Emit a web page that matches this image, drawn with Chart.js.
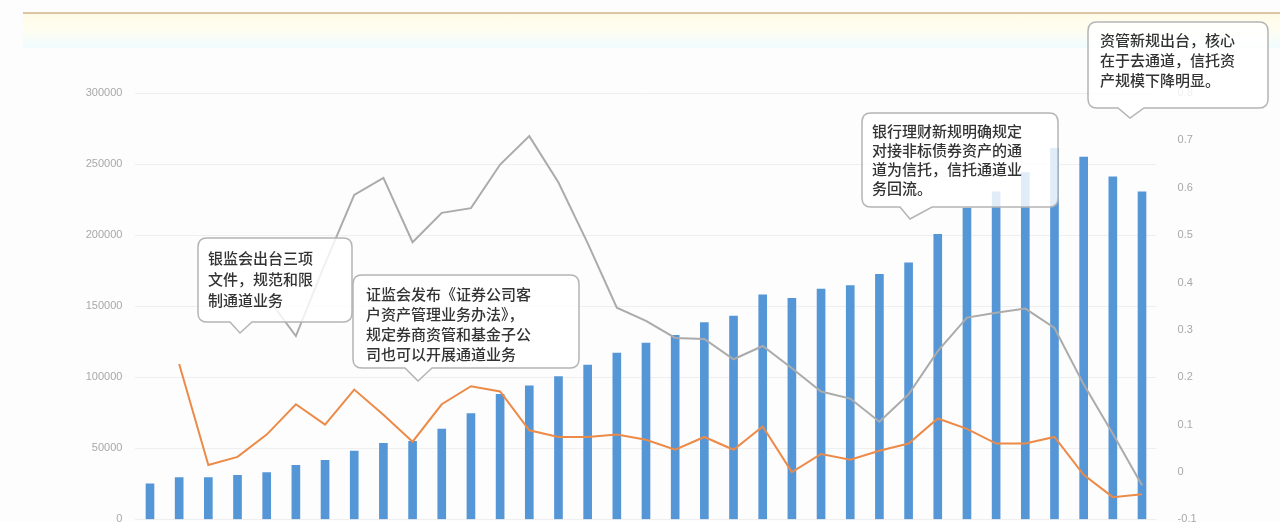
<!DOCTYPE html>
<html>
<head>
<meta charset="utf-8">
<script src="https://cdn.jsdelivr.net/npm/chart.js@4.4.1/dist/chart.umd.min.js"></script>
<style>
  html, body { margin: 0; padding: 0; background: #fdfdfd; overflow: hidden; }
  #wrap { position: relative; width: 1280px; height: 522px; overflow: hidden; background: #fdfdfd; }
  #band { position: absolute; left: 23px; top: 12px; width: 1257px; height: 34px;
          border-top: 2px solid #dcc6a2;
          background: linear-gradient(#fffbe8, #fffdf0 45%, #f1fcff); }
  #chart { position: absolute; left: 0; top: 0; }
</style>
</head>
<body>
<div id="wrap">
  <div id="band"></div>
  <canvas id="chart" width="1280" height="539"></canvas>
</div>
<script>
// quarterly data, 2010Q1 .. 2018Q3
const quarters = ['2010Q1','2010Q2','2010Q3','2010Q4','2011Q1','2011Q2','2011Q3','2011Q4',
  '2012Q1','2012Q2','2012Q3','2012Q4','2013Q1','2013Q2','2013Q3','2013Q4',
  '2014Q1','2014Q2','2014Q3','2014Q4','2015Q1','2015Q2','2015Q3','2015Q4',
  '2016Q1','2016Q2','2016Q3','2016Q4','2017Q1','2017Q2','2017Q3','2017Q4',
  '2018Q1','2018Q2','2018Q3'];

const trustAssets = [25000, 29500, 29500, 31000, 33000, 38000, 41500, 48000,
  53500, 55000, 63500, 74500, 88000, 94000, 100500, 108500,
  117000, 124000, 129500, 138500, 143000, 158000, 155500, 162000,
  164500, 172500, 180500, 200500, 219000, 230500, 244000, 261000,
  255000, 241000, 230500];

// orange line (right axis)
const qoqGrowth = [null, 0.228, 0.015, 0.032, 0.079, 0.143, 0.10, 0.174,
  0.121, 0.064, 0.143, 0.181, 0.17, 0.088, 0.074, 0.074,
  0.079, 0.068, 0.047, 0.074, 0.047, 0.096, 0.0, 0.038,
  0.026, 0.045, 0.06, 0.113, 0.091, 0.06, 0.06, 0.074,
  -0.006, -0.053, -0.047];

// gray line (right axis)
const yoyGrowth = [null, null, null, null, 0.37, 0.287, 0.44, 0.585,
  0.621, 0.485, 0.547, 0.557, 0.649, 0.709, 0.611, 0.483,
  0.347, 0.319, 0.283, 0.281, 0.238, 0.266, 0.219, 0.17,
  0.155, 0.106, 0.164, 0.255, 0.326, 0.336, 0.345, 0.304,
  0.185, 0.081, -0.028];

const notes = [
  { lines: ['银监会出台三项', '文件，规范和限', '制通道业务'],
    box: [198, 238, 154, 84], tail: [230, 252, 240, 333], tx: 208, ty: 258, lh: 21 },
  { lines: ['证监会发布《证券公司客', '户资产管理业务办法》，', '规定券商资管和基金子公', '司也可以开展通道业务'],
    box: [353, 275, 226, 93], tail: [405, 432, 418, 381], tx: 366, ty: 294, lh: 20 },
  { lines: ['银行理财新规明确规定', '对接非标债券资产的通', '道为信托，信托通道业', '务回流。'],
    box: [862, 113, 196, 94], tail: [900, 932, 910, 219], tx: 872, ty: 131, lh: 19 },
  { lines: ['资管新规出台，核心', '在于去通道，信托资', '产规模下降明显。'],
    box: [1088, 22, 180, 86], tail: [1118, 1144, 1130, 118], tx: 1100, ty: 40, lh: 20 }
];

function bubblePath(ctx, x, y, w, h, r, t) {
  ctx.beginPath();
  ctx.moveTo(x + r, y);
  ctx.lineTo(x + w - r, y);
  ctx.quadraticCurveTo(x + w, y, x + w, y + r);
  ctx.lineTo(x + w, y + h - r);
  ctx.quadraticCurveTo(x + w, y + h, x + w - r, y + h);
  ctx.lineTo(t[1], y + h);
  ctx.lineTo(t[2], t[3]);
  ctx.lineTo(t[0], y + h);
  ctx.lineTo(x + r, y + h);
  ctx.quadraticCurveTo(x, y + h, x, y + h - r);
  ctx.lineTo(x, y + r);
  ctx.quadraticCurveTo(x, y, x + r, y);
  ctx.closePath();
}

const calloutPlugin = {
  id: 'callouts',
  afterDatasetsDraw(chart) {
    const ctx = chart.ctx;
    ctx.save();
    notes.forEach(n => {
      const [x, y, w, h] = n.box;
      bubblePath(ctx, x, y, w, h, 9, n.tail);
      ctx.fillStyle = 'rgba(255,255,255,0.82)';
      ctx.fill();
      ctx.strokeStyle = '#b4b4b4';
      ctx.lineWidth = 1.5;
      ctx.stroke();
      ctx.fillStyle = '#333333';
      ctx.font = '500 15px "Noto Sans CJK SC"';
      ctx.textBaseline = 'middle';
      ctx.textAlign = 'left';
      n.lines.forEach((s, i) => ctx.fillText(s, n.tx, n.ty + i * n.lh));
    });
    ctx.restore();
  }
};

new Chart(document.getElementById('chart'), {
  type: 'bar',
  data: {
    labels: quarters,
    datasets: [
      {
        type: 'line',
        data: yoyGrowth,
        yAxisID: 'y2',
        borderColor: '#ababab',
        borderWidth: 2,
        pointRadius: 0,
        tension: 0,
        order: 1
      },
      {
        type: 'line',
        data: qoqGrowth,
        yAxisID: 'y2',
        borderColor: '#ec8a48',
        borderWidth: 2,
        pointRadius: 0,
        tension: 0,
        order: 2
      },
      {
        data: trustAssets,
        yAxisID: 'y',
        backgroundColor: '#5596d6',
        barThickness: 8,
        order: 3
      }
    ]
  },
  options: {
    responsive: false,
    devicePixelRatio: 1,
    animation: false,
    layout: { padding: { top: 93, bottom: 4, left: 0, right: 0 } },
    plugins: { legend: { display: false }, tooltip: { enabled: false } },
    scales: {
      x: { display: false },
      y: {
        position: 'left',
        min: 0,
        max: 300000,
        ticks: {
          stepSize: 50000,
          padding: 13,
          color: '#a8a8a8',
          font: { size: 11, family: 'Liberation Sans' },
          callback: v => String(v)
        },
        grid: { color: '#efefef', drawTicks: false },
        border: { display: false },
        afterFit: s => { s.width = 135.4; }
      },
      y2: {
        position: 'right',
        min: -0.1,
        max: 0.8,
        ticks: {
          stepSize: 0.1,
          padding: 13,
          color: '#a8a8a8',
          font: { size: 11, family: 'Liberation Sans' },
          callback: v => String(Number(v.toFixed(1)))
        },
        grid: { display: false },
        border: { display: false },
        afterFit: s => { s.width = 123.4; }
      }
    }
  },
  plugins: [calloutPlugin]
});
</script>
</body>
</html>
